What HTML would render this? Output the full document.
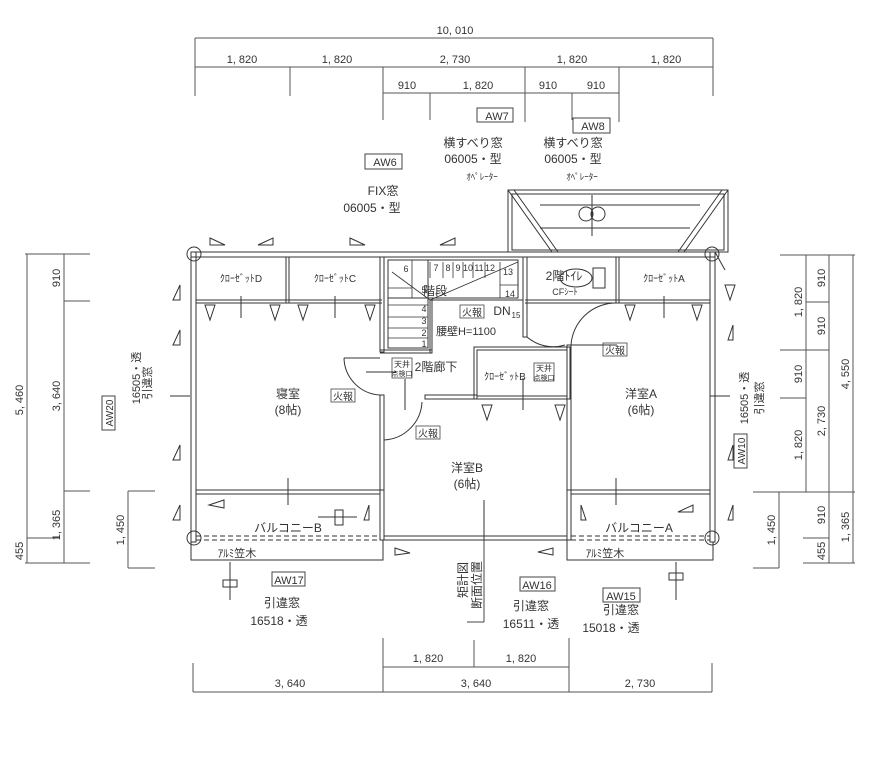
<!DOCTYPE html>
<html><head><meta charset="utf-8"><style>
html,body{margin:0;padding:0;background:#fff;}
svg{display:block;}
text{font-family:"Liberation Sans","Noto Sans CJK JP",sans-serif;fill:#333;}
.d{font-size:11px;}
.l{font-size:12px;}
.s{font-size:9px;}
</style></head><body>
<svg width="888" height="765" viewBox="0 0 888 765" xmlns="http://www.w3.org/2000/svg">
<g stroke="#555" stroke-width="1" fill="none">
<line x1="195" y1="38" x2="713" y2="38"/>
<line x1="195" y1="67" x2="713" y2="67"/>
<line x1="195" y1="38" x2="195" y2="96"/><line x1="713" y1="38" x2="713" y2="96"/>
<line x1="290" y1="67" x2="290" y2="96"/><line x1="383" y1="67" x2="383" y2="120"/>
<line x1="525" y1="67" x2="525" y2="122"/><line x1="619" y1="67" x2="619" y2="122"/>
<line x1="383" y1="93" x2="619" y2="93"/>
<line x1="430" y1="93" x2="430" y2="120"/><line x1="572" y1="93" x2="572" y2="120"/>
<line x1="27" y1="254" x2="27" y2="563"/><line x1="64" y1="254" x2="64" y2="563"/>
<line x1="25" y1="254" x2="90" y2="254"/><line x1="64" y1="301" x2="90" y2="301"/>
<line x1="64" y1="491" x2="90" y2="491"/><line x1="27" y1="538" x2="60" y2="538"/>
<line x1="25" y1="563" x2="90" y2="563"/>
<line x1="128" y1="491" x2="128" y2="568"/><line x1="128" y1="491" x2="155" y2="491"/><line x1="128" y1="568" x2="155" y2="568"/>
<line x1="806" y1="255" x2="806" y2="492"/><line x1="829" y1="255" x2="829" y2="563"/><line x1="853" y1="255" x2="853" y2="563"/>
<line x1="780" y1="255" x2="855" y2="255"/><line x1="806" y1="302" x2="829" y2="302"/>
<line x1="780" y1="350" x2="829" y2="350"/><line x1="780" y1="398" x2="806" y2="398"/>
<line x1="753" y1="492" x2="855" y2="492"/><line x1="803" y1="538" x2="829" y2="538"/>
<line x1="803" y1="563" x2="855" y2="563"/>
<line x1="779" y1="492" x2="779" y2="568"/><line x1="753" y1="568" x2="779" y2="568"/>
<line x1="193" y1="692" x2="712" y2="692"/><line x1="383" y1="667" x2="569" y2="667"/>
<line x1="193" y1="663" x2="193" y2="692"/><line x1="383" y1="638" x2="383" y2="692"/>
<line x1="569" y1="638" x2="569" y2="692"/><line x1="712" y1="663" x2="712" y2="692"/>
<line x1="474" y1="640" x2="474" y2="667"/>
</g>
<g class="d" text-anchor="middle">
<text x="455" y="34">10, 010</text>
<text x="242" y="63">1, 820</text><text x="337" y="63">1, 820</text><text x="455" y="63">2, 730</text>
<text x="572" y="63">1, 820</text><text x="666" y="63">1, 820</text>
<text x="407" y="89">910</text><text x="478" y="89">1, 820</text><text x="548" y="89">910</text><text x="596" y="89">910</text>
<text x="290" y="687">3, 640</text><text x="476" y="687">3, 640</text><text x="640" y="687">2, 730</text>
<text x="428" y="662">1, 820</text><text x="521" y="662">1, 820</text>
</g>
<g class="d" text-anchor="middle">
<text transform="translate(23,400) rotate(-90)">5, 460</text>
<text transform="translate(23,551) rotate(-90)">455</text>
<text transform="translate(60,278) rotate(-90)">910</text>
<text transform="translate(60,396) rotate(-90)">3, 640</text>
<text transform="translate(60,525) rotate(-90)">1, 365</text>
<text transform="translate(124,530) rotate(-90)">1, 450</text>
<text transform="translate(802,302) rotate(-90)">1, 820</text>
<text transform="translate(802,374) rotate(-90)">910</text>
<text transform="translate(802,445) rotate(-90)">1, 820</text>
<text transform="translate(825,278) rotate(-90)">910</text>
<text transform="translate(825,326) rotate(-90)">910</text>
<text transform="translate(825,421) rotate(-90)">2, 730</text>
<text transform="translate(825,515) rotate(-90)">910</text>
<text transform="translate(825,551) rotate(-90)">455</text>
<text transform="translate(849,374) rotate(-90)">4, 550</text>
<text transform="translate(849,527) rotate(-90)">1, 365</text>
<text transform="translate(775,530) rotate(-90)">1, 450</text>
</g>
<g class="l" text-anchor="middle">
<rect x="477" y="108" width="36" height="14" fill="none" stroke="#444"/><text x="497" y="120" font-size="11">AW7</text>
<rect x="573" y="118" width="37" height="15" fill="none" stroke="#444"/><text x="593" y="130" font-size="11">AW8</text>
<text x="473" y="147">横すべり窓</text><text x="473" y="163">06005・型</text><text x="482" y="180" font-size="9">ｵﾍﾟﾚｰﾀｰ</text>
<text x="573" y="147">横すべり窓</text><text x="573" y="163">06005・型</text><text x="582" y="180" font-size="9">ｵﾍﾟﾚｰﾀｰ</text>
<rect x="365" y="154" width="37" height="15" fill="none" stroke="#444"/><text x="385" y="166" font-size="11">AW6</text>
<text x="383" y="195">FIX窓</text><text x="372" y="212">06005・型</text>
<rect x="272" y="572" width="33" height="14" fill="none" stroke="#444"/><text x="289" y="584" font-size="11">AW17</text>
<text x="282" y="607">引違窓</text><text x="279" y="625">16518・透</text>
<rect x="520" y="577" width="35" height="14" fill="none" stroke="#444"/><text x="537" y="589" font-size="11">AW16</text>
<text x="531" y="610">引違窓</text><text x="531" y="628">16511・透</text>
<rect x="603" y="588" width="37" height="14" fill="none" stroke="#444"/><text x="621" y="600" font-size="11">AW15</text>
<text x="621" y="614">引違窓</text><text x="611" y="632">15018・透</text>
<!-- AW20 -->
<g transform="translate(109,413) rotate(-90)"><rect x="-17" y="-7" width="34" height="13" fill="none" stroke="#444"/><text x="0" y="4" font-size="10">AW20</text></g>
<text transform="translate(140,378) rotate(-90)" font-size="11">16505・透</text>
<text transform="translate(151,383) rotate(-90)" font-size="11">引違窓</text>
<!-- AW10 -->
<g transform="translate(741,451) rotate(-90)"><rect x="-17" y="-7" width="34" height="13" fill="none" stroke="#444"/><text x="0" y="4" font-size="10">AW10</text></g>
<text transform="translate(748,398) rotate(-90)" font-size="11">16505・透</text>
<text transform="translate(763,398) rotate(-90)" font-size="11">引違窓</text>
</g>
<g class="l" text-anchor="middle">
<text transform="translate(467,580) rotate(-90)" font-size="12">矩計図</text>
<text transform="translate(481,585) rotate(-90)" font-size="12">断面位置</text>
<line x1="484" y1="540" x2="484" y2="622" stroke="#444"/><line x1="467" y1="622" x2="484" y2="622" stroke="#444"/>
</g>
<g stroke="#333" fill="none" stroke-width="1">
<rect x="191" y="252" width="524" height="5"/>
<rect x="191" y="252" width="5" height="290"/>
<rect x="710" y="252" width="5" height="290"/>
<line x1="196" y1="300" x2="382" y2="300"/><line x1="196" y1="303" x2="382" y2="303"/>
<line x1="617" y1="300" x2="710" y2="300"/><line x1="617" y1="303" x2="710" y2="303"/>
<line x1="525" y1="300" x2="617" y2="300"/><line x1="525" y1="303" x2="617" y2="303"/>
<rect x="286" y="257" width="3" height="46"/>
<rect x="380" y="257" width="4" height="95"/>
<rect x="523" y="257" width="4" height="80"/>
<rect x="616" y="257" width="3" height="46"/>
<rect x="380" y="395" width="4" height="145"/>
<line x1="380" y1="350" x2="432" y2="350"/><line x1="380" y1="353" x2="432" y2="353"/>
<rect x="430" y="300" width="2" height="53"/>
<line x1="432" y1="300" x2="523" y2="300"/>
<rect x="388" y="260" width="130" height="38"/>
<rect x="388" y="260" width="40" height="88"/>
<g stroke-width="0.8">
<line x1="412" y1="260" x2="412" y2="298"/><line x1="430" y1="262" x2="430" y2="278"/><line x1="443" y1="262" x2="443" y2="278"/><line x1="453" y1="262" x2="453" y2="278"/><line x1="463" y1="262" x2="463" y2="278"/><line x1="473" y1="262" x2="473" y2="278"/><line x1="485" y1="262" x2="485" y2="278"/><line x1="500" y1="262" x2="500" y2="298"/>
<line x1="500" y1="285" x2="518" y2="285"/>
<line x1="388" y1="288" x2="412" y2="288"/><line x1="388" y1="305" x2="428" y2="305"/><line x1="388" y1="317" x2="428" y2="317"/><line x1="388" y1="328" x2="428" y2="328"/><line x1="388" y1="338" x2="428" y2="338"/>
<polyline points="392,272 430,300 518,262"/>
</g>
<rect x="425" y="395" width="52" height="4"/>
<rect x="474" y="347" width="96" height="52"/>
<rect x="477" y="350" width="90" height="46"/>
<rect x="567" y="345" width="4" height="195"/>
<line x1="569" y1="345" x2="617" y2="345"/>
<line x1="196" y1="490" x2="380" y2="490"/><line x1="196" y1="494" x2="380" y2="494"/>
<line x1="571" y1="490" x2="710" y2="490"/><line x1="571" y1="494" x2="710" y2="494"/>
<rect x="380" y="490" width="4" height="50"/>
<rect x="567" y="490" width="4" height="50"/>
<line x1="384" y1="536" x2="567" y2="536"/><line x1="384" y1="540" x2="567" y2="540"/>
<line x1="196" y1="536" x2="380" y2="536" stroke-dasharray="5,3"/><line x1="196" y1="540" x2="380" y2="540" stroke-dasharray="5,3"/>
<line x1="571" y1="536" x2="710" y2="536" stroke-dasharray="5,3"/><line x1="571" y1="540" x2="710" y2="540" stroke-dasharray="5,3"/>
<polyline points="191,542 191,560 383,560 383,540"/>
<polyline points="567,540 567,560 713,560 713,542"/>
<path d="M344,358 A38,38 0 0 0 380,395"/><line x1="344" y1="358" x2="380" y2="358"/>
<path d="M384,440 A40,40 0 0 0 422,402"/><line x1="384" y1="402" x2="384" y2="440"/>
<path d="M527,337 A40,40 0 0 0 565,345"/><path d="M571,345 A45,45 0 0 1 617,303"/>
<ellipse cx="576" cy="278" rx="16" ry="9"/><rect x="593" y="268" width="12" height="20"/>
<rect x="508" y="190" width="220" height="62"/>
<rect x="512" y="194" width="212" height="56"/>
<line x1="508" y1="190" x2="552" y2="252"/><line x1="514" y1="190" x2="558" y2="252"/>
<line x1="728" y1="190" x2="684" y2="252"/><line x1="722" y1="190" x2="678" y2="252"/>
<line x1="540" y1="205" x2="700" y2="205"/><line x1="540" y1="228" x2="690" y2="228"/>
<circle cx="586" cy="214" r="7"/><circle cx="598" cy="214" r="7"/><line x1="592" y1="195" x2="592" y2="236"/>
<line x1="715" y1="252" x2="725" y2="270"/>
<circle cx="194" cy="254" r="7"/><circle cx="712" cy="254" r="7"/>
<circle cx="194" cy="538" r="7"/><circle cx="712" cy="538" r="7"/>
<line x1="241" y1="296" x2="241" y2="318"/><line x1="335" y1="296" x2="335" y2="318"/><line x1="664" y1="296" x2="664" y2="318"/>
<line x1="288" y1="478" x2="288" y2="505"/><line x1="616" y1="478" x2="616" y2="505"/>
<line x1="405" y1="379" x2="405" y2="410"/><line x1="523" y1="378" x2="523" y2="410"/><line x1="484" y1="500" x2="484" y2="540"/>
<line x1="366" y1="372" x2="396" y2="372"/>
<line x1="170" y1="396" x2="190" y2="396"/><line x1="710" y1="396" x2="730" y2="396"/>
<rect x="335" y="510" width="8" height="15"/><line x1="318" y1="517" x2="357" y2="517"/>
<line x1="230" y1="562" x2="230" y2="600"/><rect x="223" y="580" width="14" height="7"/>
<line x1="676" y1="562" x2="676" y2="600"/><rect x="669" y="573" width="14" height="7"/>
</g>
<g fill="#fff" stroke="#333" stroke-width="1">
<polygon points="210,238 225,245 210,245"/><polygon points="258,245 273,238 273,245"/>
<polygon points="350,238 365,245 350,245"/><polygon points="440,245 455,238 455,245"/>
<polygon points="173,300 180,285 180,300"/><polygon points="173,345 180,330 180,345"/>
<polygon points="173,460 180,445 180,460"/><polygon points="173,520 180,505 180,520"/>
<polygon points="725,285 730,300 735,285"/><polygon points="728,340 733,325 733,340"/>
<polygon points="728,460 733,445 733,460"/><polygon points="728,520 733,505 733,520"/>
<polygon points="209,505 224,500 224,508"/><polygon points="364,520 369,505 369,520"/>
<polygon points="581,505 586,520 581,520"/><polygon points="693,505 693,512 678,512"/>
<polygon points="395,548 410,553 395,555"/><polygon points="538,552 553,548 553,555"/>
<polygon points="205,305 210,320 215,305"/><polygon points="270,305 275,320 280,305"/>
<polygon points="298,305 303,320 308,305"/><polygon points="365,305 370,320 375,305"/>
<polygon points="625,305 630,320 635,305"/><polygon points="692,305 697,320 702,305"/>
<polygon points="482,405 487,420 492,405"/><polygon points="555,405 560,420 565,405"/>
</g>
<g class="l" text-anchor="middle">
<text x="241" y="282" font-size="10">ｸﾛｰｾﾞｯﾄD</text>
<text x="335" y="282" font-size="10">ｸﾛｰｾﾞｯﾄC</text>
<text x="664" y="282" font-size="10">ｸﾛｰｾﾞｯﾄA</text>
<text x="435" y="295">階段</text>
<text x="564" y="280">2階ﾄｲﾚ</text>
<text x="565" y="295" font-size="9">CFｼｰﾄ</text>
<text x="502" y="315">DN</text><text x="516" y="318" font-size="8">15</text>
<text x="466" y="335" font-size="11">腰壁H=1100</text>
<text x="436" y="371">2階廊下</text>
<text x="505" y="380" font-size="10">ｸﾛｰｾﾞｯﾄB</text>
<text x="288" y="398">寝室</text><text x="288" y="414">(8帖)</text>
<text x="641" y="398">洋室A</text><text x="641" y="414">(6帖)</text>
<text x="467" y="472">洋室B</text><text x="467" y="488">(6帖)</text>
<text x="288" y="532">バルコニーB</text>
<text x="639" y="532">バルコニーA</text>
<text x="237" y="557" font-size="11">ｱﾙﾐ笠木</text>
<text x="605" y="557" font-size="11">ｱﾙﾐ笠木</text>
</g>
<g font-size="9" text-anchor="middle">
<text x="406" y="272">6</text><text x="436" y="271">7</text><text x="448" y="271">8</text><text x="458" y="271">9</text><text x="468" y="271">10</text><text x="479" y="271">11</text><text x="490" y="271">12</text><text x="508" y="275">13</text><text x="510" y="297">14</text>
<text x="424" y="293">5</text><text x="424" y="312">4</text><text x="424" y="324">3</text><text x="424" y="336">2</text><text x="424" y="347">1</text>
</g>
<g font-size="10" text-anchor="middle" stroke="#444" stroke-width="0.8">
<rect x="460" y="305" width="24" height="13" fill="none"/><rect x="331" y="389" width="24" height="13" fill="none"/>
<rect x="416" y="426" width="24" height="13" fill="none"/><rect x="603" y="343" width="24" height="13" fill="none"/>
<rect x="392" y="358" width="20" height="20" fill="none"/><rect x="534" y="363" width="20" height="18" fill="none"/>
</g>
<g font-size="10" text-anchor="middle">
<text x="472" y="316">火報</text><text x="343" y="400">火報</text><text x="428" y="437">火報</text><text x="615" y="354">火報</text>
<text x="402" y="367" font-size="8">天井</text><text x="402" y="376" font-size="7">点検口</text>
<text x="544" y="371" font-size="8">天井</text><text x="544" y="380" font-size="7">点検口</text>
</g>
</svg>
</body></html>
